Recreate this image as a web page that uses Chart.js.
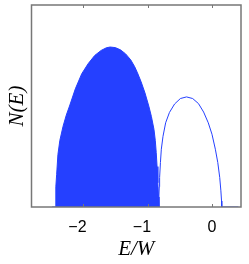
<!DOCTYPE html>
<html>
<head>
  <title>N(E) bands</title>
  <script src="https://cdn.jsdelivr.net/npm/chart.js"></script>
  <style>
    body { margin: 0; background: white; }
    canvas { display: block; }
  </style>
</head>
<body>
  <canvas id="dosChart" width="249" height="264"></canvas>

  <script>
    // lower band (filled)
    const lowerX = [-2.48, -2.427, -2.425, -2.42, -2.41, -2.39, -2.36, -2.31, -2.26, -2.21, -2.12, -2.02, -1.92, -1.82, -1.72, -1.64, -1.58,
                    -1.50, -1.42, -1.34, -1.26, -1.20, -1.156, -1.10, -1.04, -0.98, -0.94, -0.90, -0.88, -0.865, -0.852, -0.840, -0.830, -0.823];
    const lowerY = [0, 0, 0.05, 0.10, 0.16, 0.26, 0.33, 0.40, 0.455, 0.50, 0.585, 0.66, 0.71, 0.75, 0.775, 0.788, 0.792,
                    0.789, 0.778, 0.758, 0.728, 0.695, 0.664, 0.62, 0.565, 0.499, 0.448, 0.384, 0.33, 0.27, 0.20, 0.12, 0.05, 0];

    // upper band (outline only)
    const upperX = [-0.828, -0.824, -0.818, -0.8125, -0.80, -0.786, -0.76, -0.719, -0.66, -0.58, -0.49, -0.395,
                    -0.30, -0.21, -0.13, -0.058, 0.00, 0.052, 0.09, 0.12, 0.138, 0.148, 0.152, 0.41];
    const upperY = [0, 0.05, 0.10, 0.146, 0.22, 0.286, 0.35, 0.417, 0.468, 0.51, 0.537, 0.545,
                    0.537, 0.512, 0.47, 0.417, 0.36, 0.286, 0.22, 0.146, 0.08, 0.03, 0, 0];

    const xTicks = [-2, -1, 0];

    const blue = '#2540ff';
    const toPoints = (xs, ys) => xs.map((x, i) => ({ x: x, y: ys[i] }));

    // box round the plot + little inward tick marks top and bottom
    const boxPlugin = {
      id: 'box',
      afterDraw(chart) {
        const { ctx, chartArea: a, scales } = chart;
        ctx.save();
        ctx.strokeStyle = '#777';
        ctx.lineWidth = 1.5;
        ctx.strokeRect(a.left, a.top, a.right - a.left, a.bottom - a.top);
        ctx.lineWidth = 1;
        xTicks.forEach(t => {
          const px = Math.round(scales.x.getPixelForValue(t)) + 0.5;
          ctx.beginPath();
          ctx.moveTo(px, a.bottom); ctx.lineTo(px, a.bottom - 3);
          ctx.moveTo(px, a.top); ctx.lineTo(px, a.top + 3);
          ctx.stroke();
        });
        ctx.restore();
      }
    };

    const ctx = document.getElementById('dosChart').getContext('2d');
    const chart = new Chart(ctx, {
      type: 'scatter',
      data: {
        datasets: [{
          data: toPoints(lowerX, lowerY),
          showLine: true,
          borderColor: blue,
          backgroundColor: blue,
          borderWidth: 1,
          fill: 'origin',
          pointRadius: 0
        }, {
          data: toPoints(upperX, upperY),
          showLine: true,
          borderColor: blue,
          borderWidth: 1,
          fill: false,
          pointRadius: 0
        }]
      },
      options: {
        responsive: false,
        animation: false,
        layout: { padding: { top: 5, right: 8, left: 0, bottom: 0 } },
        plugins: { legend: { display: false }, tooltip: { enabled: false } },
        scales: {
          x: {
            type: 'linear',
            min: -2.8,
            max: 0.45,
            afterBuildTicks: s => { s.ticks = xTicks.map(v => ({ value: v })); },
            grid: { display: false, drawTicks: false },
            border: { display: false },
            ticks: {
              color: '#000',
              padding: 13,
              font: { family: 'Liberation Sans', size: 16, lineHeight: 1 },
              // negative labels sit a bit left of their tick, like the original
              callback: v => v < 0 ? '\u2212' + Math.abs(v) + '\u2002\u2009' : String(v)
            },
            title: {
              display: true,
              text: 'E/W',
              color: '#000',
              padding: { top: -10.5, bottom: 4.5 },
              font: { family: 'Liberation Serif', style: 'italic', size: 21, lineHeight: 1 }
            }
          },
          y: {
            min: 0,
            max: 1,
            grid: { display: false, drawTicks: false },
            border: { display: false },
            ticks: { display: false },
            title: {
              display: true,
              text: 'N(E)',
              color: '#000',
              padding: { top: 6.5, bottom: 4 },
              font: { family: 'Liberation Serif', style: 'italic', size: 21, lineHeight: 1 }
            }
          }
        }
      },
      plugins: [boxPlugin]
    });
  </script>
</body>
</html>
